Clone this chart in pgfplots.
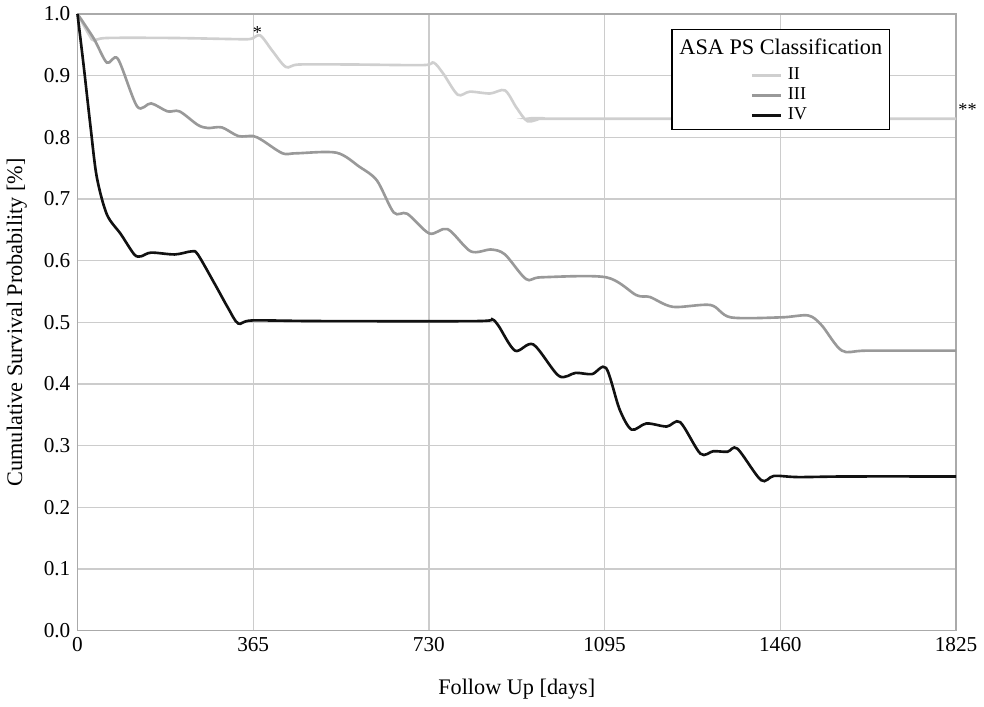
\documentclass[border=0pt]{standalone}
\usepackage{fontspec}
\setmainfont{Liberation Serif}
\usepackage{pgfplots}
\pgfplotsset{compat=1.18}

\definecolor{asaII}{HTML}{CFCFCF}
\definecolor{asaIII}{HTML}{999999}
\definecolor{asaIV}{HTML}{111111}
\definecolor{gridgray}{HTML}{CCCCCC}
\definecolor{axisgray}{HTML}{AAAAAA}

\pgfplotsset{
  survframe/.style={
    scale only axis,
    width=434.5pt, height=305pt,
    xmin=0, xmax=1825, ymin=0, ymax=1,
  },
}

\begin{document}
\begin{tikzpicture}
\begin{axis}[
    survframe,
    xtick={0,365,730,1095,1460,1825},
    ytick={0,0.1,...,1.0},
    xticklabel style={/pgf/number format/1000 sep={}},
    yticklabel style={/pgf/number format/fixed, /pgf/number format/fixed zerofill, /pgf/number format/precision=1},
    /pgf/number format/assume math mode=true,
    major tick length=0pt,
    tick label style={font=\fontsize{10.5}{12}\selectfont},
    grid=major,
    grid style={gridgray, line width=0.6pt},
    axis line style={axisgray, line width=0.8pt},
    xlabel={Follow Up [days]},
    ylabel={Cumulative Survival Probability [\%]},
    label style={font=\fontsize{11}{13}\selectfont},
    xlabel style={at={(axis description cs:0.5,-0.095)}, anchor=center},
    ylabel style={at={(axis description cs:-0.069,0.5)}, anchor=center},
    clip=false,
]
% ASA II
\addplot[asaII, line width=1.3pt, smooth, tension=0.5] coordinates {
  (0,1.0)(25,0.965)(34,0.957)(61,0.961)(200,0.961)(340,0.959)(362,0.960)(380,0.965)
  (405,0.94)(433,0.914)(460,0.918)(570,0.918)(718,0.917)(740,0.921)(760,0.903)
  (790,0.869)(815,0.874)(857,0.871)(888,0.876)(912,0.848)(935,0.826)(966,0.831)
  (1000,0.830)(1825,0.830)};
% ASA III
\addplot[asaIII, line width=1.3pt, smooth, tension=0.5] coordinates {
  (0,1.0)(34,0.96)(61,0.921)(84,0.927)(124,0.850)(153,0.855)(187,0.842)(212,0.842)
  (250,0.820)(271,0.815)(300,0.816)(334,0.802)(365,0.802)(384,0.795)(426,0.774)
  (454,0.774)(538,0.775)(586,0.752)(622,0.730)(657,0.678)(685,0.676)(731,0.644)
  (769,0.651)(817,0.615)(859,0.618)(888,0.610)(932,0.570)(964,0.573)(1098,0.573)
  (1161,0.544)(1189,0.541)(1237,0.525)(1315,0.528)(1357,0.508)(1462,0.508)
  (1518,0.511)(1546,0.495)(1588,0.454)(1640,0.454)(1825,0.454)};
% ASA IV
\addplot[asaIV, line width=1.3pt, smooth, tension=0.5] coordinates {
  (0,1.0)(13,0.915)(27,0.818)(40,0.736)(61,0.675)(90,0.643)(118,0.610)(132,0.607)
  (153,0.613)(202,0.610)(237,0.615)(250,0.610)(286,0.561)(313,0.523)(334,0.498)
  (363,0.503)(500,0.502)(832,0.502)(859,0.506)(874,0.495)(909,0.454)(947,0.464)
  (1000,0.413)(1035,0.418)(1069,0.416)(1098,0.426)(1126,0.359)(1151,0.326)
  (1182,0.336)(1224,0.331)(1252,0.338)(1294,0.287)(1321,0.291)(1350,0.290)
  (1371,0.295)(1420,0.244)(1447,0.251)(1497,0.249)(1600,0.250)(1825,0.250)};
\node[anchor=south, font=\small, inner sep=1pt] at (axis cs:374,0.957) {*};
\node[anchor=west, font=\small, inner sep=1pt] at (axis cs:1825,0.845) {**};
\end{axis}
% legend box on top of the curves
\begin{axis}[
    survframe,
    hide axis,
    clip=false,
    legend style={at={(axis cs:1461,0.92)}, anchor=north, draw=none, fill=none,
        font=\fontsize{9}{10}\selectfont, inner sep=0pt, row sep=-1.5pt,
        column sep=1pt},
    legend cell align=left,
    legend image code/.code={\draw[#1, line width=1.3pt] (0cm,0cm) -- (0.5cm,0cm);},
]
\draw[black, line width=0.6pt, fill=white] (axis cs:1235,0.975) rectangle (axis cs:1687,0.812);
\node[anchor=north, font=\fontsize{11}{13}\selectfont, inner sep=0pt] at (axis cs:1461,0.96) {ASA PS Classification};
\addlegendimage{asaII}
\addlegendentry{II}
\addlegendimage{asaIII}
\addlegendentry{III}
\addlegendimage{asaIV}
\addlegendentry{IV}
\end{axis}
\end{tikzpicture}
\end{document}
